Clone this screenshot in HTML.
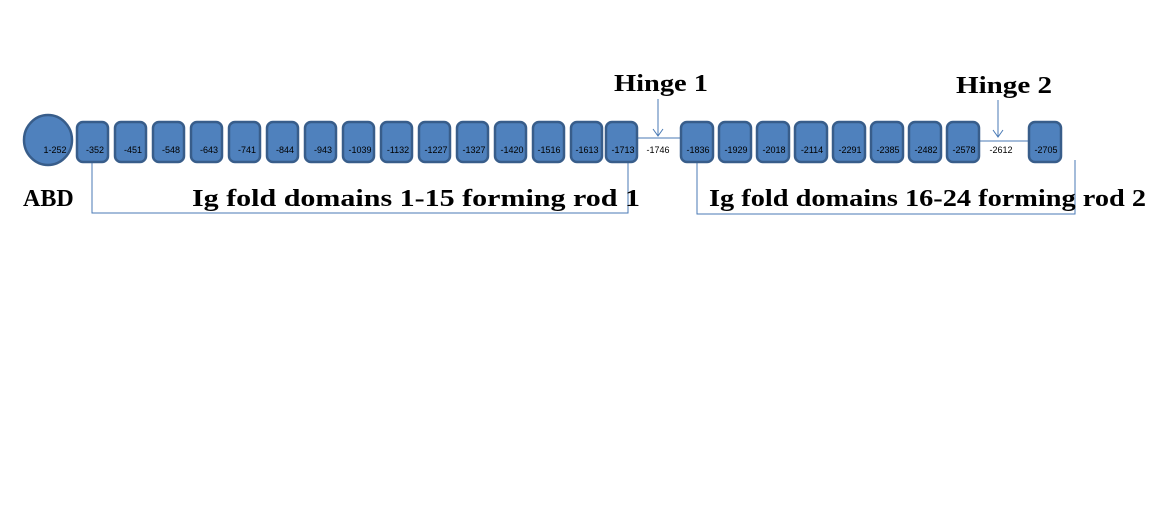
<!DOCTYPE html>
<html><head><style>body{margin:0;background:#fff}svg{display:block}</style></head><body>
<svg width="1161" height="525" xmlns="http://www.w3.org/2000/svg" font-family="Liberation Sans, sans-serif">
<g stroke="#4a7ab5" stroke-width="1" fill="none">
<line x1="637" y1="138" x2="681" y2="138"/>
<line x1="979" y1="141" x2="1029" y2="141"/>
<line x1="658" y1="99" x2="658" y2="136"/>
<polyline points="653,129 658,136 663,129"/>
<line x1="998" y1="100" x2="998" y2="137"/>
<polyline points="993,130 998,137 1003,130"/>
<polyline points="92,162 92,213 628,213 628,162"/>
<polyline points="697,162 697,214 1075,214 1075,160"/>
</g>
<ellipse cx="48" cy="140" rx="24" ry="25" fill="#4f81bd" stroke="#385d8a" stroke-width="2.5"/>
<text x="55" y="153" font-size="9" text-anchor="middle" fill="#000">1-252</text>
<g fill="#4f81bd" stroke="#385d8a" stroke-width="2.5">
<rect x="77" y="122" width="31" height="40" rx="6"/>
<rect x="115" y="122" width="31" height="40" rx="6"/>
<rect x="153" y="122" width="31" height="40" rx="6"/>
<rect x="191" y="122" width="31" height="40" rx="6"/>
<rect x="229" y="122" width="31" height="40" rx="6"/>
<rect x="267" y="122" width="31" height="40" rx="6"/>
<rect x="305" y="122" width="31" height="40" rx="6"/>
<rect x="343" y="122" width="31" height="40" rx="6"/>
<rect x="381" y="122" width="31" height="40" rx="6"/>
<rect x="419" y="122" width="31" height="40" rx="6"/>
<rect x="457" y="122" width="31" height="40" rx="6"/>
<rect x="495" y="122" width="31" height="40" rx="6"/>
<rect x="533" y="122" width="31" height="40" rx="6"/>
<rect x="571" y="122" width="31" height="40" rx="6"/>
<rect x="606" y="122" width="31" height="40" rx="6"/>
<rect x="681" y="122" width="32" height="40" rx="6"/>
<rect x="719" y="122" width="32" height="40" rx="6"/>
<rect x="757" y="122" width="32" height="40" rx="6"/>
<rect x="795" y="122" width="32" height="40" rx="6"/>
<rect x="833" y="122" width="32" height="40" rx="6"/>
<rect x="871" y="122" width="32" height="40" rx="6"/>
<rect x="909" y="122" width="32" height="40" rx="6"/>
<rect x="947" y="122" width="32" height="40" rx="6"/>
<rect x="1029" y="122" width="32" height="40" rx="6"/>
</g>
<g font-size="9" text-anchor="middle" fill="#000">
<text x="95" y="153">-352</text><text x="133" y="153">-451</text><text x="171" y="153">-548</text>
<text x="209" y="153">-643</text><text x="247" y="153">-741</text><text x="285" y="153">-844</text>
<text x="323" y="153">-943</text><text x="360" y="153">-1039</text><text x="398" y="153">-1132</text>
<text x="436" y="153">-1227</text><text x="474" y="153">-1327</text><text x="512" y="153">-1420</text>
<text x="549" y="153">-1516</text><text x="587" y="153">-1613</text><text x="623" y="153">-1713</text>
<text x="658" y="153">-1746</text>
<text x="698" y="153">-1836</text><text x="736" y="153">-1929</text><text x="774" y="153">-2018</text>
<text x="812" y="153">-2114</text><text x="850" y="153">-2291</text><text x="888" y="153">-2385</text>
<text x="926" y="153">-2482</text><text x="964" y="153">-2578</text><text x="1001" y="153">-2612</text>
<text x="1046" y="153">-2705</text>
</g>
<g font-family="Liberation Serif, serif" font-weight="bold" font-size="24" fill="#000">
<text x="23" y="206">ABD</text>
<text x="192" y="206" textLength="448" lengthAdjust="spacingAndGlyphs">Ig fold domains 1-15 forming rod 1</text>
<text x="709" y="206" textLength="437" lengthAdjust="spacingAndGlyphs">Ig fold domains 16-24 forming rod 2</text>
<text x="614" y="91" textLength="94" lengthAdjust="spacingAndGlyphs">Hinge 1</text>
<text x="956" y="93" textLength="96" lengthAdjust="spacingAndGlyphs">Hinge 2</text>
</g>
</svg>
</body></html>
